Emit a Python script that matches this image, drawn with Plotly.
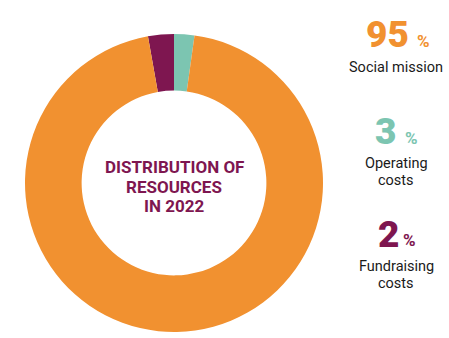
import plotly.graph_objects as go

# Data
categories = ["Operating costs", "Fundraising costs", "Social mission"]
slice_shares = [2.2, 2.8, 95.0]          # shares as drawn in the ring
legend_percents = ["3", "2", "95"]        # percentages printed on the right
label_lines = [["Operating", "costs"], ["Fundraising", "costs"], ["Social mission"]]
colors = ["#7CC5B1", "#7E1650", "#F19130"]
center_title = ["DISTRIBUTION OF", "RESOURCES", "IN 2022"]

W, H = 449, 338

def px(x):
    return x / W

def py(y):
    return 1 - y / H

fig = go.Figure()
fig.add_trace(go.Pie(
    labels=categories,
    values=slice_shares,
    marker=dict(colors=colors, line=dict(width=0)),
    hole=0.62,
    sort=False,
    direction="counterclockwise",
    rotation=0,
    textinfo="none",
    hoverinfo="label+percent",
    showlegend=False,
    domain=dict(x=[px(25), px(323)], y=[py(332), py(34)]),
))

annotations = []
# center title
for i, line in enumerate(center_title):
    annotations.append(dict(
        x=px(174), y=py(167 + i * 19.5), xref="paper", yref="paper",
        text=line, showarrow=False,
        font=dict(family="Roboto", size=17, color="#7E1650", weight=700),
        xanchor="center", yanchor="middle",
    ))

# right side legend blocks
blocks = {
    "Social mission": dict(nx=387, ny=35, px_=423, py_=41, ly=67),
    "Operating costs": dict(nx=385, ny=131, px_=411, py_=138, ly=163),
    "Fundraising costs": dict(nx=388, ny=234, px_=409, py_=240, ly=266),
}
for cat, pct, lines, col in zip(categories, legend_percents, label_lines, colors):
    b = blocks[cat]
    annotations.append(dict(
        x=px(b["nx"]), y=py(b["ny"]), xref="paper", yref="paper",
        text=pct, showarrow=False,
        font=dict(family="Roboto", size=37, color=col, weight=900),
        xanchor="center", yanchor="middle",
    ))
    annotations.append(dict(
        x=px(b["px_"]), y=py(b["py_"]), xref="paper", yref="paper",
        text="%", showarrow=False,
        font=dict(family="Roboto", size=17, color=col, weight=700),
        xanchor="center", yanchor="middle",
    ))
    for j, ln in enumerate(lines):
        annotations.append(dict(
            x=px(396), y=py(b["ly"] + j * 17), xref="paper", yref="paper",
            text=ln, showarrow=False,
            font=dict(family="Roboto", size=14.5, color="#1a1a1a"),
            xanchor="center", yanchor="middle",
        ))

fig.update_layout(
    width=W, height=H,
    margin=dict(l=0, r=0, t=0, b=0),
    paper_bgcolor="white", plot_bgcolor="white",
    annotations=annotations,
)

fig.write_html("out.html")
